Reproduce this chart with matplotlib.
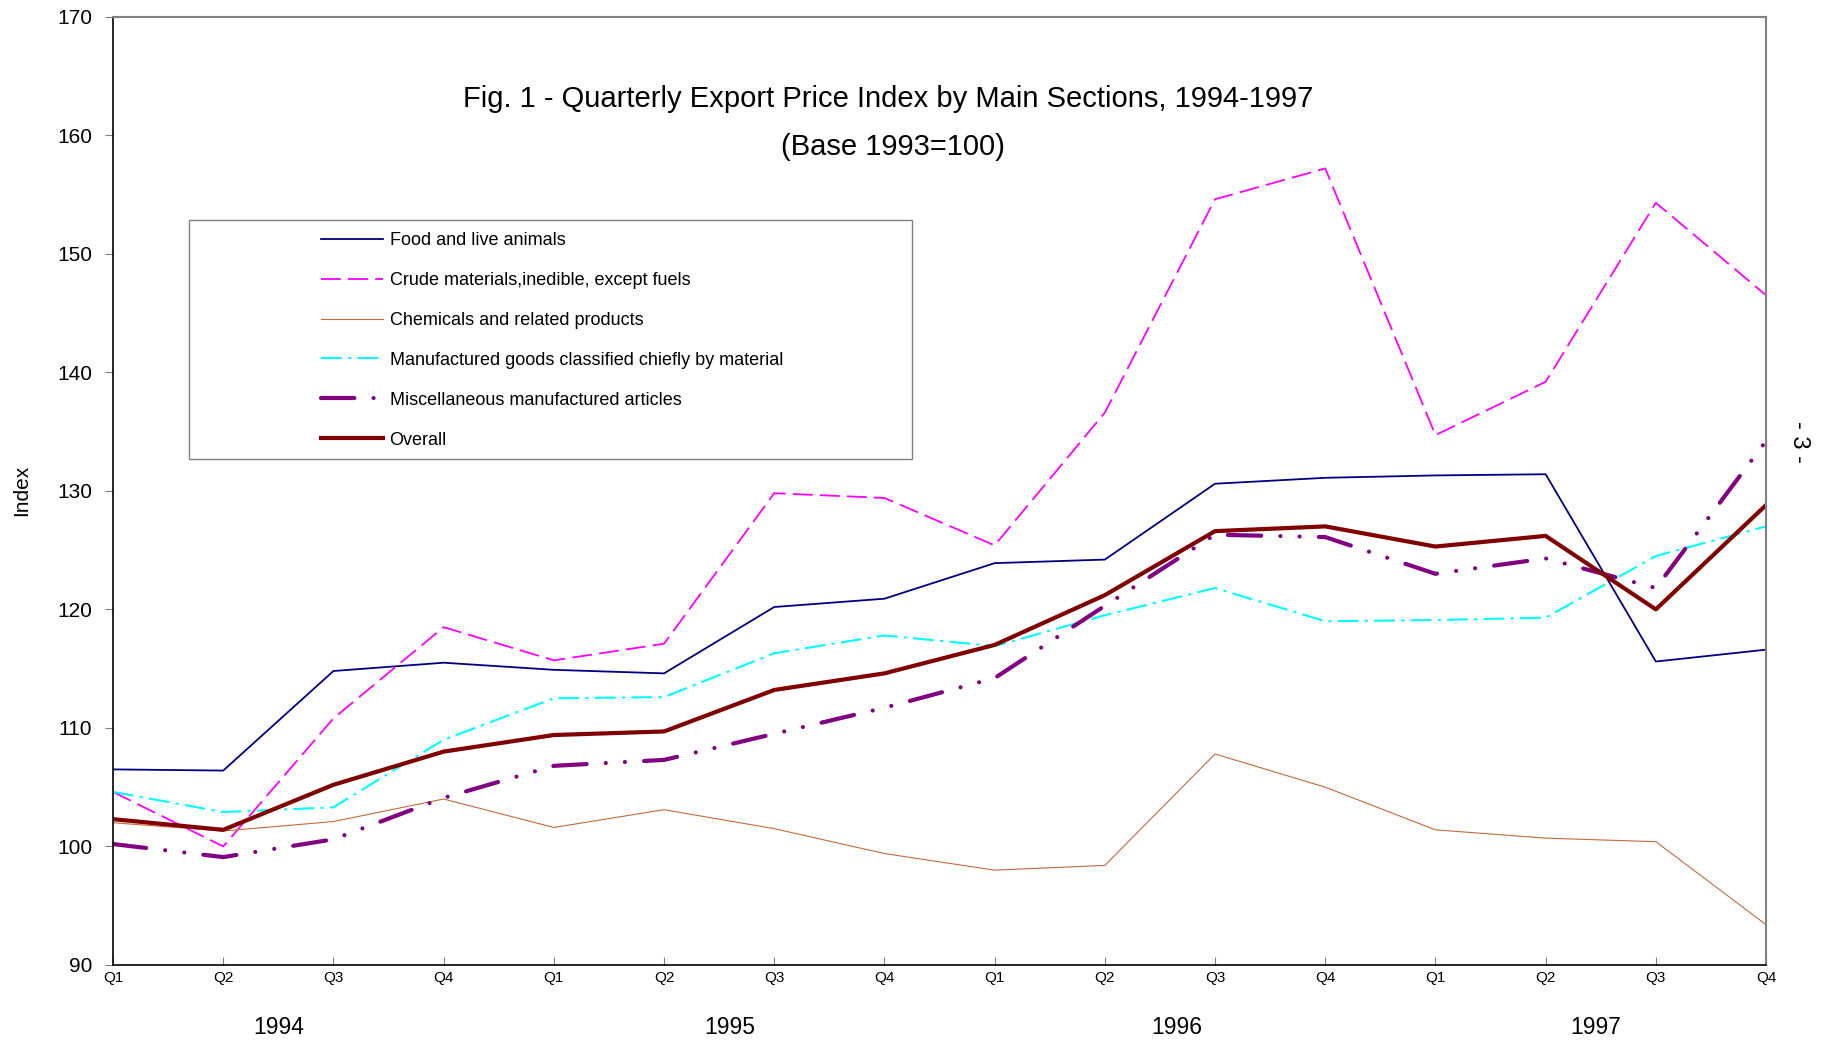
import numpy as np
import matplotlib
matplotlib.use("Agg")
import matplotlib.pyplot as plt
from matplotlib.patches import Rectangle

plt.rcParams['font.family'] = ['Liberation Sans', 'DejaVu Sans']

# data (quarterly, 1994 Q1 .. 1997 Q4)
quarters = ["Q1", "Q2", "Q3", "Q4"] * 4
years = ["1994", "1995", "1996", "1997"]
year_pos = [1.5, 5.6, 9.65, 13.45]

food = [106.5, 106.4, 114.8, 115.5, 114.9, 114.6, 120.2, 120.9,
        123.9, 124.2, 130.6, 131.1, 131.3, 131.4, 115.6, 116.6]
crude = [104.6, 100.0, 110.8, 118.5, 115.7, 117.1, 129.8, 129.4,
         125.4, 136.6, 154.6, 157.2, 134.7, 139.2, 154.3, 146.5]
chem = [102.0, 101.3, 102.1, 104.0, 101.6, 103.1, 101.5, 99.4,
        98.0, 98.4, 107.8, 105.0, 101.4, 100.7, 100.4, 93.4]
manuf = [104.6, 102.9, 103.3, 109.0, 112.5, 112.6, 116.3, 117.8,
         116.9, 119.5, 121.8, 119.0, 119.1, 119.3, 124.5, 127.0]
misc = [100.2, 99.1, 100.6, 104.1, 106.8, 107.3, 109.5, 111.7,
        114.2, 120.3, 126.3, 126.1, 123.0, 124.3, 121.8, 134.2]
overall = [102.3, 101.4, 105.2, 108.0, 109.4, 109.7, 113.2, 114.6,
           117.0, 121.2, 126.6, 127.0, 125.3, 126.2, 120.0, 128.8]

x = np.arange(len(quarters))

fig = plt.figure(figsize=(18.32, 10.44), dpi=100)
ax = fig.add_axes([0.0617, 0.0757, 0.9023, 0.9083])

ax.plot(x, food, color='#000080', lw=1.3, label="Food and live animals")
ax.plot(x, crude, color='#FF00FF', lw=1.3, dashes=(11, 4),
        label="Crude materials,inedible, except fuels")
ax.plot(x, chem, color='#C46A3E', lw=0.8, label="Chemicals and related products")
ax.plot(x, manuf, color='#00FFFF', lw=1.5, dashes=(10, 3, 1.5, 3),
        label="Manufactured goods classified chiefly by material")
ax.plot(x, misc, color='#800080', lw=3.0, dashes=(8, 4.6, 0.01, 4.6, 0.01, 4.6),
        dash_capstyle='round', label="Miscellaneous manufactured articles")
ax.plot(x, overall, color='#800000', lw=3.0, label="Overall")

ax.set_xlim(0, 15)
ax.set_ylim(90, 170)
ax.set_yticks(np.arange(90, 171, 10))
ax.set_xticks(x)
ax.set_xticklabels(quarters, fontsize=11)
ax.tick_params(axis='x', direction='in', length=6, color='#808080', pad=4)
ax.tick_params(axis='y', direction='out', length=6, color='#808080', labelsize=15, pad=9)

for s in ['left', 'bottom']:
    ax.spines[s].set_color('black')
    ax.spines[s].set_linewidth(1.2)
for s in ['top', 'right']:
    ax.spines[s].set_color('#808080')
    ax.spines[s].set_linewidth(1.5)

ax.set_ylabel("Index", fontsize=15, labelpad=19)

for yr, p in zip(years, year_pos):
    ax.text(p, -0.066, yr, transform=ax.get_xaxis_transform(), ha='center', va='center',
            fontsize=16.5)

ax.text(0.469, 0.913, "Fig. 1 - Quarterly Export Price Index by Main Sections, 1994-1997",
        transform=ax.transAxes, ha='center', va='center', fontsize=21)
ax.text(0.472, 0.863, "(Base 1993=100)", transform=ax.transAxes, ha='center', va='center',
        fontsize=21)

fig.text(0.982, 0.577, "- 3 -", rotation=270, ha='center', va='center', fontsize=17)

# legend box
ax.add_patch(Rectangle((0.046, 0.5334), 0.4374, 0.252, transform=ax.transAxes,
                       facecolor='white', edgecolor='#808080', lw=1.0, zorder=4))
leg = ax.legend(loc='upper left', bbox_to_anchor=(0.1258, 0.773), frameon=False,
                borderaxespad=0, borderpad=0, fontsize=13, handlelength=3.45,
                handletextpad=0.35, labelspacing=1.27)
leg.set_zorder(5)

fig.savefig("out.png", dpi=100)
